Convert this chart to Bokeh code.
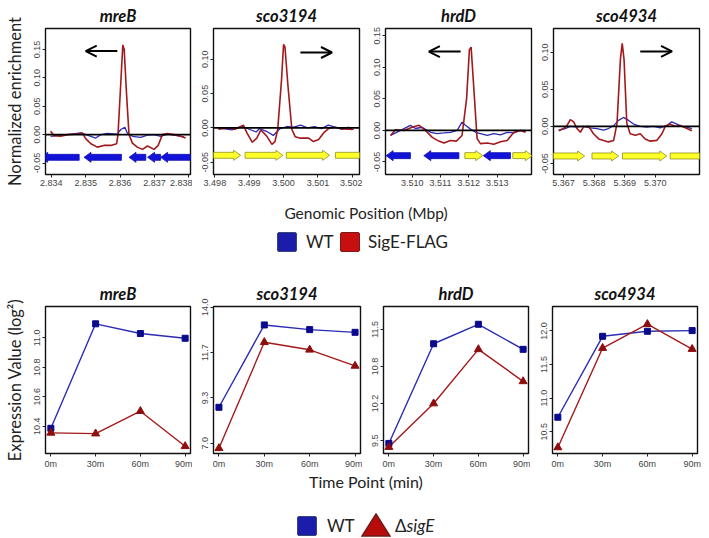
from bokeh.plotting import figure
from bokeh.layouts import row, column
from bokeh.models import Span, Arrow, OpenHead, FixedTicker, NumeralTickFormatter, Div, Range1d
from bokeh.embed import file_html
from bokeh.resources import INLINE

# ------------------------------------------------------------------ data
chip_titles = ["mreB", "sco3194", "hrdD", "sco4934"]
chip_xlabel = "Genomic Position (Mbp)"
chip_ylabel = "Normalized enrichment"
chip_legend = ["WT", "SigE-FLAG"]

# mreB ChIP profile (position in Mbp, normalized enrichment)
mreb_sig_pos = [2.83398, 2.83408, 2.83427, 2.83447, 2.83476, 2.83490, 2.83500, 2.83515, 2.83534,
                2.83553, 2.83573, 2.83590, 2.83594, 2.83602, 2.83608, 2.83612, 2.83619, 2.83626,
                2.83636, 2.83650, 2.83665, 2.83680, 2.83699, 2.83711, 2.83723, 2.83738, 2.83757,
                2.83777, 2.83791]
mreb_sig = [0.006, -0.002, -0.003, 0.000, 0.001, 0.003, -0.007, -0.016, -0.022,
            -0.019, -0.019, -0.016, 0.000, 0.090, 0.158, 0.150, 0.070, 0.000,
            -0.015, -0.022, -0.026, -0.020, -0.026, -0.019, 0.000, 0.002, 0.000,
            -0.003, -0.006]
mreb_wt_pos = [2.83398, 2.83427, 2.83447, 2.83485, 2.83505, 2.83529, 2.83544, 2.83563, 2.83592,
               2.83602, 2.83614, 2.83621, 2.83636, 2.83660, 2.83680, 2.83699, 2.83718, 2.83738,
               2.83757, 2.83786]
mreb_wt = [-0.003, -0.001, 0.000, 0.003, -0.001, -0.006, 0.000, 0.002, 0.001,
           0.009, 0.013, 0.003, -0.003, -0.005, -0.001, 0.000, -0.003, 0.001,
           -0.001, -0.004]
mreb_gene_start = [2.83369, 2.83495, 2.83626, 2.83680, 2.83718]
mreb_gene_end = [2.83481, 2.83604, 2.83675, 2.83718, 2.83825]
mreb_gene_strand = [-1, -1, -1, -1, -1]
mreb_dir = [2.83592, 2.83500, 0.147]

# sco3194
sco3194_sig_pos = [3.49810, 3.49839, 3.49858, 3.49883, 3.49893, 3.49909, 3.49922, 3.49934, 3.49951,
                   3.49966, 3.49975, 3.49983, 3.49994, 3.50000, 3.50004, 3.50013, 3.50024, 3.50034,
                   3.50049, 3.50073, 3.50087, 3.50102, 3.50117, 3.50131, 3.50151, 3.50165, 3.50185,
                   3.50204]
sco3194_sig = [-0.002, 0.000, -0.002, 0.004, -0.007, -0.021, -0.015, -0.003, -0.012,
               -0.024, -0.020, -0.002, 0.070, 0.122, 0.118, 0.060, -0.002, -0.013,
               -0.015, -0.015, -0.020, -0.017, -0.007, -0.001, 0.001, -0.001, -0.002,
               -0.002]
sco3194_wt_pos = [3.49810, 3.49850, 3.49880, 3.49900, 3.49920, 3.49930, 3.49950, 3.49970, 3.49980,
                  3.49990, 3.50010, 3.50030, 3.50050, 3.50070, 3.50090, 3.50110, 3.50130, 3.50150,
                  3.50170, 3.50190, 3.50200]
sco3194_wt = [0.000, -0.003, 0.002, -0.002, -0.006, -0.001, -0.005, -0.011, -0.006,
              -0.001, 0.002, 0.001, 0.004, 0.000, 0.002, -0.001, 0.004, 0.001,
              -0.002, 0.001, -0.003]
sco3194_gene_start = [3.49795, 3.49888, 3.50008, 3.50151]
sco3194_gene_end = [3.49875, 3.49998, 3.50134, 3.50245]
sco3194_gene_strand = [1, 1, 1, 1]
sco3194_dir = [3.50049, 3.50141, 0.110]

# hrdD
hrdd_sig_pos = [3.50924, 3.50941, 3.50971, 3.51000, 3.51024, 3.51047, 3.51071, 3.51094, 3.51112,
                3.51135, 3.51156, 3.51176, 3.51192, 3.51202, 3.51208, 3.51220, 3.51229, 3.51241,
                3.51265, 3.51288, 3.51312, 3.51335, 3.51359, 3.51382, 3.51400]
hrdd_sig = [-0.008, 0.001, 0.000, 0.005, 0.008, 0.000, -0.011, -0.017, -0.020,
            -0.016, -0.017, -0.008, 0.050, 0.128, 0.132, 0.050, -0.013, -0.021,
            -0.020, -0.022, -0.018, -0.016, -0.003, 0.000, -0.003]
hrdd_wt_pos = [3.50924, 3.50959, 3.50994, 3.51012, 3.51035, 3.51065, 3.51088, 3.51112, 3.51135,
               3.51159, 3.51176, 3.51188, 3.51206, 3.51224, 3.51241, 3.51265, 3.51288, 3.51312,
               3.51335, 3.51359, 3.51382, 3.51400]
hrdd_wt = [-0.008, 0.000, 0.008, 0.003, 0.005, -0.003, -0.005, -0.004, -0.003,
           0.000, 0.013, 0.008, 0.002, -0.003, -0.005, -0.008, -0.005, -0.007,
           -0.003, -0.004, 0.000, -0.002]
hrdd_gene_start = [3.50908, 3.51041, 3.51186, 3.51251, 3.51355]
hrdd_gene_end = [3.50994, 3.51165, 3.51249, 3.51347, 3.51424]
hrdd_gene_strand = [-1, -1, 1, -1, 1]
hrdd_dir = [3.51171, 3.51059, 0.125]

# sco4934
sco4934_sig_pos = [5.36684, 5.36700, 5.36711, 5.36722, 5.36733, 5.36744, 5.36755, 5.36765, 5.36782,
                   5.36798, 5.36815, 5.36831, 5.36847, 5.36864, 5.36875, 5.36886, 5.36892, 5.36898,
                   5.36907, 5.36918, 5.36935, 5.36951, 5.36967, 5.36984, 5.37005, 5.37022, 5.37033,
                   5.37049, 5.37065, 5.37082, 5.37104, 5.37120]
sco4934_sig = [-0.006, -0.003, 0.001, 0.009, 0.006, -0.003, -0.008, -0.001, 0.000,
               -0.010, -0.017, -0.019, -0.021, -0.019, 0.004, 0.090, 0.112, 0.090,
               0.004, -0.010, -0.012, -0.010, -0.017, -0.020, -0.019, -0.010, 0.000,
               0.003, 0.000, 0.001, -0.003, -0.006]
sco4934_wt_pos = [5.36684, 5.36705, 5.36722, 5.36744, 5.36765, 5.36787, 5.36809, 5.36831, 5.36847,
                  5.36864, 5.36880, 5.36896, 5.36913, 5.36929, 5.36951, 5.36973, 5.36994, 5.37016,
                  5.37038, 5.37054, 5.37071, 5.37087, 5.37103, 5.37120]
sco4934_wt = [-0.005, -0.003, 0.000, -0.001, 0.000, -0.002, -0.003, -0.005, -0.003,
              0.001, 0.008, 0.012, 0.008, 0.003, 0.000, -0.001, 0.000, -0.002,
              0.001, 0.006, 0.003, 0.000, -0.001, -0.003]
sco4934_gene_start = [5.36664, 5.36793, 5.36893, 5.37049]
sco4934_gene_end = [5.36769, 5.36880, 5.37038, 5.37170]
sco4934_gene_strand = [1, 1, 1, 1]
sco4934_dir = [5.36951, 5.37055, 0.101]

chip_xticks = [[2.834, 2.835, 2.836, 2.837, 2.838],
               [3.498, 3.499, 3.500, 3.501, 3.502],
               [3.510, 3.511, 3.512, 3.513],
               [5.367, 5.368, 5.369, 5.370]]
chip_yticks = [[-0.05, 0.0, 0.05, 0.10, 0.15],
               [-0.05, 0.0, 0.05, 0.10],
               [-0.05, 0.0, 0.05, 0.10, 0.15],
               [-0.05, 0.0, 0.05, 0.10]]

# Expression time course (log2)
time_points = [0, 30, 60, 90]
time_labels = ["0m", "30m", "60m", "90m"]
expr_xlabel = "Time Point (min)"
expr_ylabel = "Expression Value (log²)"
expr_legend = ["WT", "ΔsigE"]

mreb_expr_wt = [10.386, 11.095, 11.029, 10.997]
mreb_expr_sige = [10.355, 10.350, 10.502, 10.264]
sco3194_expr_wt = [8.85, 13.09, 12.85, 12.71]
sco3194_expr_sige = [6.74, 12.20, 11.81, 10.98]
hrdd_expr_wt = [9.451, 11.24, 11.59, 11.14]
hrdd_expr_sige = [9.385, 10.167, 11.14, 10.565]
sco4934_expr_wt = [10.715, 11.92, 11.995, 12.005]
sco4934_expr_sige = [10.265, 11.745, 12.10, 11.73]

expr_yticks = [[10.4, 10.6, 10.8, 11.0],
               [7.0, 7.0 + 7 / 3, 7.0 + 14 / 3, 14.0],
               [9.5, 9.5 + 2 / 3, 9.5 + 4 / 3, 11.5],
               [10.5, 11.0, 11.5, 12.0]]

# ------------------------------------------------------------------ style
FONT = "Lato"
TICKFONT = "Liberation Sans"
SIG_RED = "#a3191b"
WT_BLUE = "#2b2bb3"
GENE_BLUE = "#1212d8"
GENE_YELLOW = "#ffff2a"
PT_BLUE = "#0a0a8c"
PT_RED = "#8e0e0e"


def base_fig(title, w, h, L, R, T, B, xr, yr):
    p = figure(width=w, height=h, x_range=Range1d(*xr), y_range=Range1d(*yr),
               output_backend="svg", toolbar_location=None, title=title,
               min_border_left=L, min_border_right=R, min_border_top=T, min_border_bottom=B)
    p.title.align = "center"
    p.title.text_font = FONT
    p.title.text_font_style = "bold italic"
    p.title.text_font_size = "16.5px"
    p.title.text_color = "#111"
    p.title.standoff = 6
    p.xgrid.visible = False
    p.ygrid.visible = False
    p.outline_line_color = "#111"
    p.outline_line_width = 1.4
    p.background_fill_color = "white"
    p.border_fill_color = "white"
    for ax in (p.xaxis[0], p.yaxis[0]):
        ax.axis_line_color = None
        ax.major_tick_in = 0
        ax.major_tick_out = 3
        ax.major_tick_line_color = "#222"
        ax.minor_tick_line_color = None
        ax.major_label_text_font = TICKFONT
        ax.major_label_text_font_size = "9px"
        ax.major_label_text_color = "#444"
        ax.major_label_standoff = 2
    p.yaxis[0].major_label_orientation = "vertical"
    return p


def add_ylabel(p, text):
    p.yaxis[0].axis_label = text
    p.yaxis[0].axis_label_text_font = FONT
    p.yaxis[0].axis_label_text_font_style = "normal"
    p.yaxis[0].axis_label_text_font_size = "16.5px"
    p.yaxis[0].axis_label_text_color = "#222"
    p.yaxis[0].axis_label_standoff = 7


# ------------------------------------------------------------------ ChIP panels
chip_sets = [
    (mreb_sig_pos, mreb_sig, mreb_wt_pos, mreb_wt, mreb_gene_start, mreb_gene_end, mreb_gene_strand, mreb_dir),
    (sco3194_sig_pos, sco3194_sig, sco3194_wt_pos, sco3194_wt, sco3194_gene_start, sco3194_gene_end, sco3194_gene_strand, sco3194_dir),
    (hrdd_sig_pos, hrdd_sig, hrdd_wt_pos, hrdd_wt, hrdd_gene_start, hrdd_gene_end, hrdd_gene_strand, hrdd_dir),
    (sco4934_sig_pos, sco4934_sig, sco4934_wt_pos, sco4934_wt, sco4934_gene_start, sco4934_gene_end, sco4934_gene_strand, sco4934_dir),
]
chip_xr = [(2.83383, 2.83805), (3.49796, 3.50221), (3.50906, 3.51421), (5.36667, 5.37145)]
chip_yr = [(-0.0702, 0.1868), (-0.068, 0.145), (-0.0699, 0.1615), (-0.065, 0.132)]
top_geom = [(192, 45, 2), (170, 21, 3), (171, 23, 2), (172, 20, 6)]  # width, left, right
TOP_H, TOP_T, TOP_B = 196, 28, 22
GENE_Y = -0.04

top_figs = []
for i, (title, data) in enumerate(zip(chip_titles, chip_sets)):
    sx, sy, wx, wy, gs, ge, gd, dr = data
    w, L, R = top_geom[i]
    p = base_fig(title, w, TOP_H, L, R, TOP_T, TOP_B, chip_xr[i], chip_yr[i])
    fw = w - L - R
    fh = TOP_H - TOP_T - TOP_B
    px_x = (chip_xr[i][1] - chip_xr[i][0]) / fw
    px_y = (chip_yr[i][1] - chip_yr[i][0]) / fh
    # gene arrows
    hx, hb, hh = 7 * px_x, 3 * px_y, 5 * px_y
    xs, ys, fills, lines = [], [], [], []
    for s, e, d in zip(gs, ge, gd):
        if d > 0:
            xs.append([s, e - hx, e - hx, e, e - hx, e - hx, s])
            fills.append(GENE_YELLOW)
            lines.append("#8f8f20")
        else:
            xs.append([e, s + hx, s + hx, s, s + hx, s + hx, e])
            fills.append(GENE_BLUE)
            lines.append("#1010b0")
        ys.append([GENE_Y - hb, GENE_Y - hb, GENE_Y - hh, GENE_Y, GENE_Y + hh, GENE_Y + hb, GENE_Y + hb])
    p.patches(xs, ys, fill_color=fills, line_color=lines, line_width=0.8)
    p.add_layout(Span(location=0, dimension="width", line_color="black", line_width=1.6))
    p.line(wx, wy, line_color=WT_BLUE, line_width=1.3)
    p.line(sx, sy, line_color=SIG_RED, line_width=1.6)
    p.add_layout(Arrow(end=OpenHead(size=11, line_width=2, line_color="black"),
                       x_start=dr[0], y_start=dr[2], x_end=dr[1], y_end=dr[2],
                       line_width=2, line_color="black"))
    p.xaxis[0].ticker = FixedTicker(ticks=chip_xticks[i])
    p.xaxis[0].formatter = NumeralTickFormatter(format="0.000")
    p.yaxis[0].ticker = FixedTicker(ticks=chip_yticks[i])
    p.yaxis[0].formatter = NumeralTickFormatter(format="0.00")
    if i == 0:
        add_ylabel(p, chip_ylabel)
    top_figs.append(p)

# ------------------------------------------------------------------ expression panels
expr_sets = [(mreb_expr_wt, mreb_expr_sige), (sco3194_expr_wt, sco3194_expr_sige),
             (hrdd_expr_wt, hrdd_expr_sige), (sco4934_expr_wt, sco4934_expr_sige)]
expr_yr = [(10.215, 11.2125), (6.47, 14.04), (9.27, 11.909), (10.175, 12.364)]
bot_geom = [(192, 45, 2), (170, 21, 2), (168, 21, 2), (175, 22, 8)]
BOT_H, BOT_T, BOT_B = 209, 44, 18

bot_figs = []
for i, (title, (wt, sg)) in enumerate(zip(chip_titles, expr_sets)):
    w, L, R = bot_geom[i]
    p = base_fig(title, w, BOT_H, L, R, BOT_T, BOT_B, (-3.6, 93.6), expr_yr[i])
    p.line(time_points, wt, line_color=WT_BLUE, line_width=1.4)
    p.line(time_points, sg, line_color=SIG_RED, line_width=1.4)
    p.scatter(time_points, wt, marker="square", size=6, fill_color=PT_BLUE, line_color=PT_BLUE)
    p.scatter(time_points, sg, marker="triangle", size=8, fill_color=PT_RED, line_color=PT_RED)
    p.xaxis[0].ticker = FixedTicker(ticks=time_points)
    p.xaxis[0].major_label_overrides = {t: lab for t, lab in zip(time_points, time_labels)}
    p.yaxis[0].ticker = FixedTicker(ticks=expr_yticks[i])
    p.yaxis[0].formatter = NumeralTickFormatter(format="0.0")
    if i == 0:
        add_ylabel(p, expr_ylabel)
    bot_figs.append(p)

# ------------------------------------------------------------------ shared labels / legends
mid_html = f"""
<div style="position:relative;width:705px;height:66px;font-family:Lato,sans-serif;color:#222;">
 <div style="position:absolute;left:236px;top:7px;width:260px;text-align:center;font-size:15.5px;line-height:20px;">{chip_xlabel}</div>
 <div style="position:absolute;left:277px;top:36px;width:20px;height:20px;background:#1c1cab;border:1.5px solid #3a4470;border-radius:2px;box-sizing:border-box;"></div>
 <div style="position:absolute;left:306px;top:35px;font-size:17px;line-height:22px;">{chip_legend[0]}</div>
 <div style="position:absolute;left:340px;top:36px;width:20px;height:20px;background:#c80f0f;border:1.5px solid #7a1a1a;border-radius:2px;box-sizing:border-box;"></div>
 <div style="position:absolute;left:368px;top:35px;font-size:17px;line-height:22px;">{chip_legend[1]}</div>
</div>"""
mid = Div(text=mid_html, width=705, height=66, margin=0)

bot_html = f"""
<div style="position:relative;width:705px;height:65px;font-family:Lato,sans-serif;color:#222;">
 <div style="position:absolute;left:236px;top:1px;width:260px;text-align:center;font-size:16px;line-height:20px;">{expr_xlabel}</div>
 <div style="position:absolute;left:297px;top:45px;width:20px;height:20px;background:#1c1cab;border:1.5px solid #3a4470;border-radius:2px;box-sizing:border-box;"></div>
 <div style="position:absolute;left:327px;top:44px;font-size:17px;line-height:22px;">{expr_legend[0]}</div>
 <svg style="position:absolute;left:361px;top:42px;" width="30" height="24"><polygon points="15,1 29,23 1,23" fill="#b80c0c" stroke="#6e1a1a" stroke-width="1.5"/></svg>
 <div style="position:absolute;left:395px;top:44px;font-size:17px;line-height:22px;">{expr_legend[1][0]}<i>{expr_legend[1][1:]}</i></div>
</div>"""
bot = Div(text=bot_html, width=705, height=65, margin=0)

layout = column(row(*top_figs, spacing=0), mid, row(*bot_figs, spacing=0), bot, spacing=0)

open("out.html", "w").write(file_html(layout, INLINE))
